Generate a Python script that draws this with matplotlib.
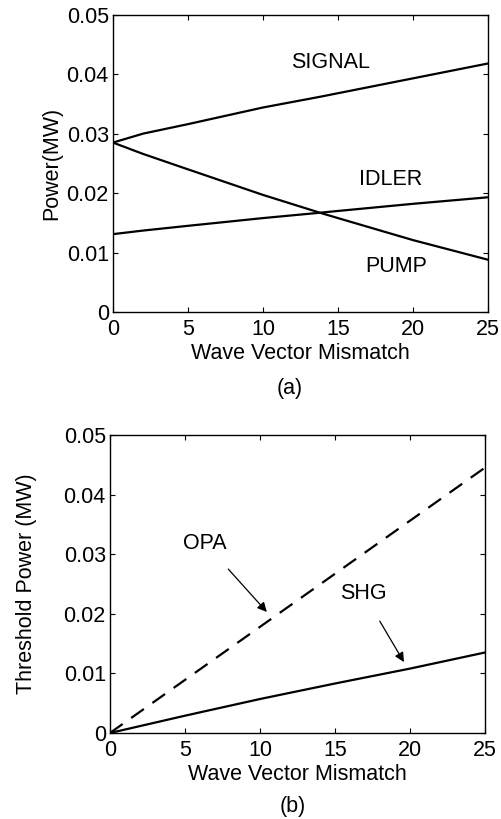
import matplotlib
matplotlib.use("Agg")
import matplotlib.pyplot as plt

plt.rcParams['font.family'] = ['Liberation Sans', 'DejaVu Sans']

# (a) powers vs wave vector mismatch
dk_a = [0, 2, 5, 10, 13.8, 15, 20, 25]
signal = [0.0285, 0.0300, 0.0316, 0.0344, 0.0362, 0.0368, 0.0393, 0.0418]
pump = [0.0285, 0.0266, 0.0240, 0.0197, 0.0167, 0.0158, 0.0121, 0.0088]
idler = [0.0131, 0.0137, 0.0145, 0.0158, 0.0167, 0.0170, 0.0182, 0.0193]

# (b) threshold power
dk_b = [0, 5, 10, 15, 20, 25]
opa = [0.0, 0.0089, 0.0178, 0.0267, 0.0356, 0.0445]
shg = [0.0, 0.0029, 0.0057, 0.0083, 0.0108, 0.0135]

xticks = [0, 5, 10, 15, 20, 25]
yticks = [0, 0.01, 0.02, 0.03, 0.04, 0.05]
ytick_labels = ['0', '0.01', '0.02', '0.03', '0.04', '0.05']

fs = 15.5

fig = plt.figure(figsize=(5.02, 8.19), dpi=100)
ax1 = fig.add_axes([0.225, 0.619, 0.747, 0.363])
ax2 = fig.add_axes([0.219, 0.105, 0.747, 0.364])


def style(ax):
    ax.set_xlim(0, 25)
    ax.set_ylim(0, 0.05)
    ax.set_xticks(xticks)
    ax.set_xticklabels([str(t) for t in xticks])
    ax.set_yticks(yticks)
    ax.set_yticklabels(ytick_labels)
    ax.tick_params(direction='in', top=True, right=True, length=3.5,
                   width=0.8, labelsize=fs)
    ax.tick_params(axis='x', pad=5)
    ax.tick_params(axis='y', pad=3)
    for s in ax.spines.values():
        s.set_linewidth(1.0)
    ax.set_xlabel('Wave Vector Mismatch', fontsize=fs, labelpad=2)


ax1.plot(dk_a, signal, color='black', lw=1.6)
ax1.plot(dk_a, pump, color='black', lw=1.6)
ax1.plot(dk_a, idler, color='black', lw=1.6)
style(ax1)
ax1.set_ylabel('Power(MW)', fontsize=fs)
ax1.yaxis.set_label_coords(-0.136, 0.5)
ax1.text(14.5, 0.0419, 'SIGNAL', fontsize=fs, ha='center', va='center')
ax1.text(18.5, 0.0223, 'IDLER', fontsize=fs, ha='center', va='center')
ax1.text(18.9, 0.0077, 'PUMP', fontsize=fs, ha='center', va='center')
fig.text(0.578, 0.526, '(a)', fontsize=fs, ha='center', va='center')

ax2.plot(dk_b, opa, color='black', lw=1.6, linestyle=(0, (7, 4.7)))
ax2.plot(dk_b, shg, color='black', lw=1.6)
style(ax2)
ax2.set_ylabel('Threshold Power (MW)', fontsize=fs)
ax2.yaxis.set_label_coords(-0.195, 0.5)
ax2.annotate('OPA', xy=(10.46, 0.0203), xytext=(6.35, 0.0318),
             fontsize=fs, ha='center', va='center',
             arrowprops=dict(arrowstyle='-|>', color='black', lw=0.9,
                             mutation_scale=14, shrinkA=12, shrinkB=0))
ax2.annotate('SHG', xy=(19.6, 0.0119), xytext=(16.9, 0.0234),
             fontsize=fs, ha='center', va='center',
             arrowprops=dict(arrowstyle='-|>', color='black', lw=0.9,
                             mutation_scale=14, shrinkA=12, shrinkB=0))
fig.text(0.584, 0.015, '(b)', fontsize=fs, ha='center', va='center')

fig.savefig('out.png', dpi=100)
